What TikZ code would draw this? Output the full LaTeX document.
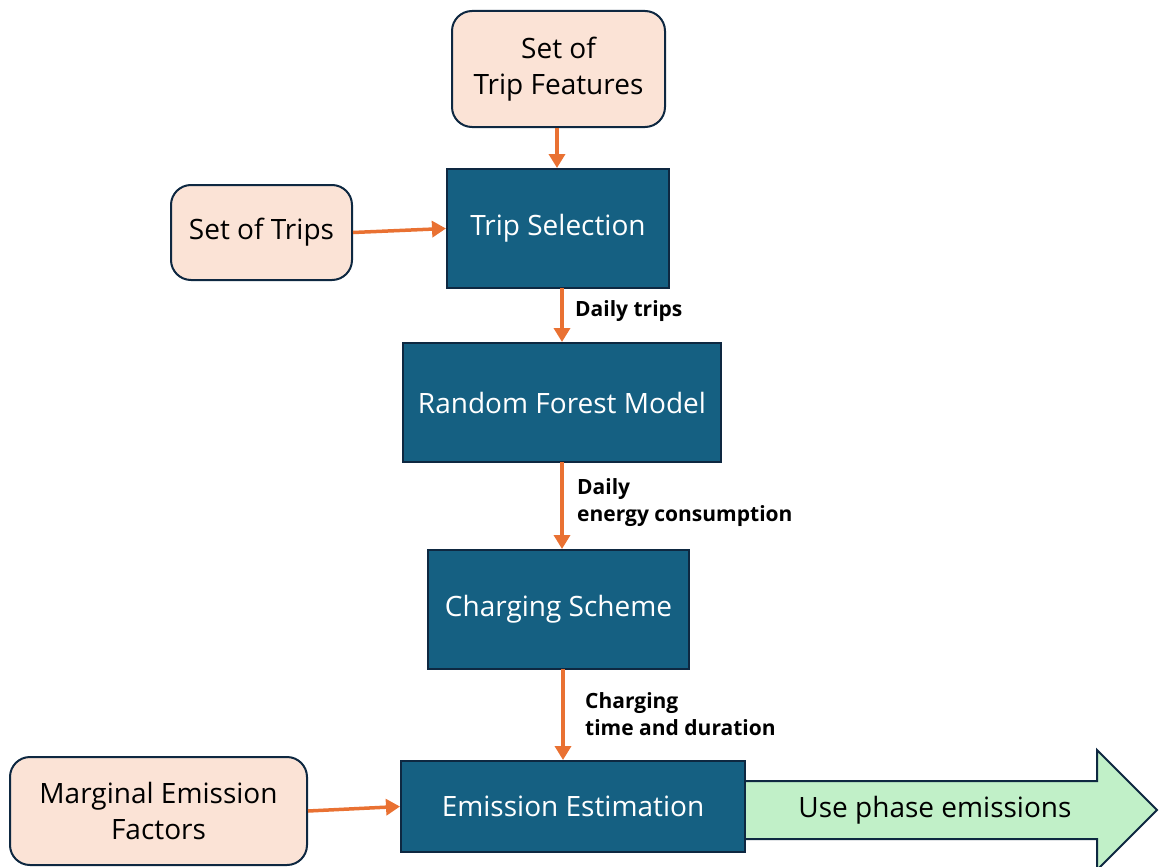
\documentclass[tikz,border=0pt]{standalone}
\usepackage{fontspec}
\setmainfont{Open Sans}
\usetikzlibrary{arrows.meta}
\definecolor{peach}{HTML}{FBE3D6}
\definecolor{navy}{HTML}{156082}
\definecolor{edge}{HTML}{0E2841}
\definecolor{orangeline}{HTML}{E97132}
\definecolor{lightgreen}{HTML}{C1F0C8}
\tikzset{
  inbox/.style={draw=edge, line width=2pt, fill=peach, rounded corners=20pt, align=center, inner sep=0pt, font=\fontsize{28}{36}\selectfont, text=black},
  procbox/.style={draw=edge, line width=2pt, fill=navy, align=center, inner sep=0pt, font=\fontsize{28}{34}\selectfont, text=white},
  flow/.style={draw=orangeline, line width=3.5pt, -{Triangle[length=14pt,width=16pt]}},
  lbl/.style={anchor=west, align=left, inner sep=0pt, font=\fontsize{21}{27}\selectfont\bfseries, text=black}
}
\begin{document}
\begin{tikzpicture}[x=1pt,y=-1pt]
\useasboundingbox (0,0) rectangle (1162,867);
% big output arrow
\draw[draw=edge, line width=2pt, fill=lightgreen] (740,781) -- (1097,781) -- (1097,750) -- (1157,810) -- (1097,870) -- (1097,839) -- (740,839) -- cycle;
\node[font=\fontsize{28}{34}\selectfont, inner sep=0pt] (use) at (935,810) {Use phase emissions};

\node[inbox, minimum width=213pt, minimum height=116pt] (feat) at (558.5,69) {Set of\\Trip Features};
\node[procbox, minimum width=222pt, minimum height=119pt] (sel) at (558,228.5) {Trip Selection};
\node[inbox, minimum width=181pt, minimum height=95pt] (trips) at (261.5,232.5) {Set of Trips};
\node[procbox, minimum width=318pt, minimum height=119pt] (rf) at (562,402.5) {Random Forest Model};
\node[procbox, minimum width=261pt, minimum height=119pt] (cs) at (558.5,609.5) {Charging Scheme};
\node[procbox, minimum width=344pt, minimum height=91pt] (ee) at (573,806.5) {Emission Estimation};
\node[inbox, minimum width=297pt, minimum height=108pt] (mef) at (158.5,811) {Marginal Emission\\Factors};

\coordinate (a1) at (562,288);
\coordinate (a2) at (562,462);
\coordinate (a3) at (563,669);
\draw[flow] (feat.south -| 557,0) -- (sel.north -| 557,0);
\draw[flow] (trips.east) -- (sel.west);
\draw[flow] (a1) -- (rf.north -| a1);
\draw[flow] (a2) -- (cs.north -| a2);
\draw[flow] (a3) -- (ee.north -| a3);
\draw[flow] (mef.east) -- (ee.west);

\node[lbl] (l1) at (575,311) {Daily trips};
\node[lbl] (l2) at (577,503) {Daily\\energy consumption};
\node[lbl] (l3) at (585,714) {Charging\\time and duration};
\end{tikzpicture}
\end{document}
